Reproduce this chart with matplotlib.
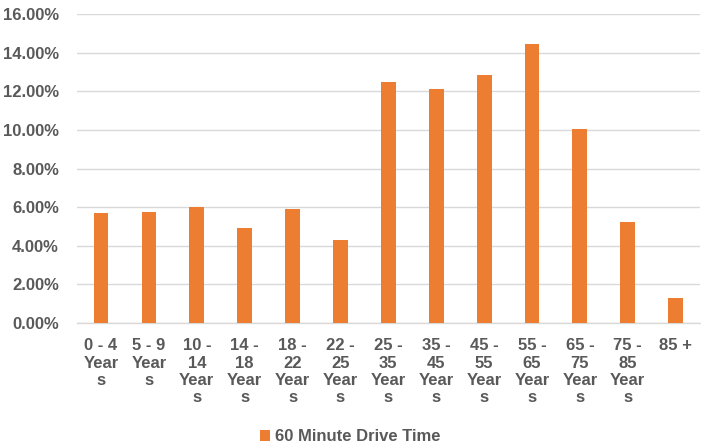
import matplotlib.pyplot as plt
from matplotlib.ticker import PercentFormatter
from matplotlib.patches import Patch

# ---------------------------------------------------------------------
# Data
# ---------------------------------------------------------------------
age_groups = [
    "0 - 4\nYear\ns", "5 - 9\nYear\ns", "10 -\n14\nYear\ns", "14 -\n18\nYear\ns",
    "18 -\n22\nYear\ns", "22 -\n25\nYear\ns", "25 -\n35\nYear\ns", "35 -\n45\nYear\ns",
    "45 -\n55\nYear\ns", "55 -\n65\nYear\ns", "65 -\n75\nYear\ns", "75 -\n85\nYear\ns",
    "85 +",
]
share_60min = [5.70, 5.75, 6.01, 4.90, 5.92, 4.28, 12.49, 12.14, 12.83, 14.47, 10.05, 5.23, 1.30]
series_name = "60 Minute Drive Time"
y_ticks = [0, 2, 4, 6, 8, 10, 12, 14, 16]

# ---------------------------------------------------------------------
# Style
# ---------------------------------------------------------------------
plt.rcParams["font.family"] = "Liberation Sans"
plt.rcParams["font.weight"] = "bold"
text_grey = "#595959"
bar_color = "#ED7D31"
grid_grey = "#D9D9D9"
fsize = 12

fig = plt.figure(figsize=(7.01, 4.43), dpi=100)
ax = fig.add_axes([0.110, 0.271, 0.888, 0.697])

x = range(len(age_groups))
ax.bar(x, share_60min, width=0.31, color=bar_color, zorder=3)

ax.set_xlim(-0.5, len(age_groups) - 0.5)
ax.set_ylim(0, 16)
ax.set_yticks(y_ticks)
ax.yaxis.set_major_formatter(PercentFormatter(decimals=2))
ax.set_xticks(list(x))
ax.set_xticklabels(age_groups, linespacing=1.2, ha="center", va="top",
                   fontweight="bold")

ax.grid(axis="y", color=grid_grey, linewidth=1, zorder=0)
for side in ["top", "right", "left"]:
    ax.spines[side].set_visible(False)
ax.spines["bottom"].set_color(grid_grey)
ax.spines["bottom"].set_linewidth(1)

ax.tick_params(axis="both", length=0, labelsize=fsize, labelcolor=text_grey)
ax.tick_params(axis="y", pad=13)
ax.tick_params(axis="x", pad=11)

handle = Patch(facecolor=bar_color, label=series_name)
fig.legend(handles=[handle], loc="lower center", bbox_to_anchor=(0.5, -0.037),
           frameon=False, handlelength=0.6, handleheight=0.6, handletextpad=0.3,
           prop={"family": "Liberation Sans", "weight": "bold", "size": fsize},
           labelcolor=text_grey)

fig.savefig("out.png", dpi=100)
